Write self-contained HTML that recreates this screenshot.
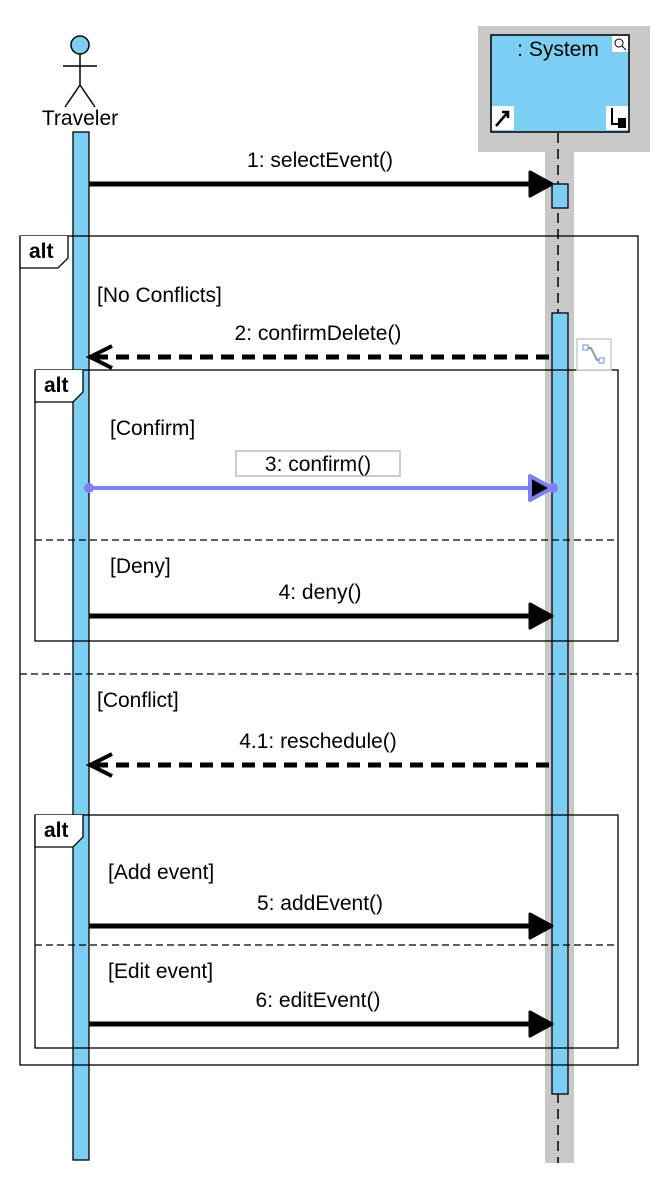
<!DOCTYPE html>
<html><head><meta charset="utf-8"><style>
body{margin:0;background:#fff}
svg text{font-family:"Liberation Sans",sans-serif;font-size:21px;fill:#000}
</style></head><body>
<svg width="666" height="1176" xmlns="http://www.w3.org/2000/svg">
<rect x="0" y="0" width="666" height="1176" fill="#fff"/>
<rect x="478" y="26" width="172" height="126" fill="#c8c8c8"/>
<rect x="545" y="150" width="29" height="1013" fill="#c8c8c8"/>
<rect x="491" y="35" width="138" height="97" fill="#7ccff2" stroke="#000" stroke-width="1.5"/>
<text x="558" y="56" text-anchor="middle">: System</text>
<rect x="612" y="36" width="16" height="16" fill="#fff"/>
<circle cx="619" cy="43" r="4" fill="none" stroke="#000" stroke-width="1"/>
<line x1="622" y1="46" x2="626" y2="50" stroke="#000"/>
<rect x="492" y="106" width="22" height="24" fill="#fff"/>
<path d="M496 126 L508 112 M502 112 L508 112 L508 118" stroke="#000" stroke-width="2.5" fill="none"/>
<rect x="606" y="106" width="22" height="24" fill="#fff"/>
<path d="M612 108 L612 124 L618 124" stroke="#000" stroke-width="2" fill="none"/>
<rect x="618" y="118" width="8" height="10" fill="#000"/>
<line x1="558" y1="133" x2="558" y2="1163" stroke="#000" stroke-width="1.5" stroke-dasharray="10,6"/>
<circle cx="80" cy="45" r="9" fill="#7ccff2" stroke="#000" stroke-width="1.5"/>
<path d="M80 54 L80 85 M63 66 L97 66 M80 85 L65 107 M80 85 L95 107" stroke="#000" stroke-width="1.5" fill="none"/>
<text x="80" y="125" text-anchor="middle">Traveler</text>
<!-- activations -->
<rect x="73" y="132" width="16" height="1028" fill="#7ccff2" stroke="#000" stroke-width="1.3"/>
<rect x="552" y="184" width="16" height="24" fill="#7ccff2" stroke="#000" stroke-width="1.3"/>
<rect x="552" y="313" width="16" height="781" fill="#7ccff2" stroke="#000" stroke-width="1.3"/>
<!-- frames -->
<rect x="20" y="236" width="618" height="829" fill="none" stroke="#000" stroke-width="1.3"/>
<path d="M20 236 L20 268 L58 268 L68 258 L68 236" fill="#fff" stroke="#000" stroke-width="1.3"/>
<text x="29" y="258" style="font-weight:bold">alt</text>
<line x1="20" y1="674" x2="638" y2="674" stroke="#000" stroke-width="1.3" stroke-dasharray="7,4"/>
<rect x="35" y="370" width="583" height="271" fill="none" stroke="#000" stroke-width="1.3"/>
<path d="M35 370 L35 402 L73 402 L83 392 L83 370" fill="#fff" stroke="#000" stroke-width="1.3"/>
<text x="44" y="392" style="font-weight:bold">alt</text>
<line x1="35" y1="540" x2="618" y2="540" stroke="#000" stroke-width="1.3" stroke-dasharray="7,4"/>
<rect x="35" y="815" width="583" height="233" fill="none" stroke="#000" stroke-width="1.3"/>
<path d="M35 815 L35 847 L73 847 L83 837 L83 815" fill="#fff" stroke="#000" stroke-width="1.3"/>
<text x="44" y="837" style="font-weight:bold">alt</text>
<line x1="35" y1="945" x2="618" y2="945" stroke="#000" stroke-width="1.3" stroke-dasharray="7,4"/>
<text x="97" y="302">[No Conflicts]</text>
<text x="110" y="435">[Confirm]</text>
<text x="110" y="573">[Deny]</text>
<text x="97" y="707">[Conflict]</text>
<text x="108" y="879">[Add event]</text>
<text x="108" y="978">[Edit event]</text>
<text x="320" y="167" text-anchor="middle">1: selectEvent()</text>
<line x1="89" y1="184" x2="530" y2="184" stroke="#000" stroke-width="5"/>
<path d="M530 172 L552 184 L530 196 Z" fill="#000" stroke="#000" stroke-width="3" stroke-linejoin="round"/>
<text x="318" y="340" text-anchor="middle">2: confirmDelete()</text>
<line x1="95" y1="357" x2="552" y2="357" stroke="#000" stroke-width="5" stroke-dasharray="13,8"/>
<path d="M112 346 L90 357 L112 368" fill="none" stroke="#000" stroke-width="4"/>
<rect x="577" y="339" width="34" height="31" fill="#fff" stroke="#ccc" stroke-width="1.5"/>
<path d="M585 348 L591 348 L597 360 L601 360" stroke="#999" stroke-width="2" fill="none"/>
<rect x="583" y="345" width="5" height="5" fill="#fff" stroke="#6a8ef0"/>
<rect x="599" y="358" width="5" height="5" fill="#fff" stroke="#6a8ef0"/>
<rect x="236" y="451" width="164" height="25" fill="#fff" stroke="#bbb" stroke-width="1.5"/>
<text x="318" y="471" text-anchor="middle">3: confirm()</text>
<line x1="89" y1="488" x2="530" y2="488" stroke="#7f7ff5" stroke-width="4"/>
<circle cx="89" cy="488" r="5" fill="#7f7ff5"/>
<path d="M530 476 L552 488 L530 500 Z" fill="#000" stroke="#7f7ff5" stroke-width="4" stroke-linejoin="round"/>
<circle cx="553" cy="488" r="5" fill="#7f7ff5"/>
<text x="320" y="599" text-anchor="middle">4: deny()</text>
<line x1="89" y1="616" x2="530" y2="616" stroke="#000" stroke-width="5"/>
<path d="M530 604 L552 616 L530 628 Z" fill="#000" stroke="#000" stroke-width="3" stroke-linejoin="round"/>
<text x="318" y="748" text-anchor="middle">4.1: reschedule()</text>
<line x1="95" y1="765" x2="552" y2="765" stroke="#000" stroke-width="5" stroke-dasharray="13,8"/>
<path d="M112 754 L90 765 L112 776" fill="none" stroke="#000" stroke-width="4"/>
<text x="320" y="910" text-anchor="middle">5: addEvent()</text>
<line x1="89" y1="926" x2="530" y2="926" stroke="#000" stroke-width="5"/>
<path d="M530 914 L552 926 L530 938 Z" fill="#000" stroke="#000" stroke-width="3" stroke-linejoin="round"/>
<text x="318" y="1007" text-anchor="middle">6: editEvent()</text>
<line x1="89" y1="1024" x2="530" y2="1024" stroke="#000" stroke-width="5"/>
<path d="M530 1012 L552 1024 L530 1036 Z" fill="#000" stroke="#000" stroke-width="3" stroke-linejoin="round"/>
</svg>
</body></html>
